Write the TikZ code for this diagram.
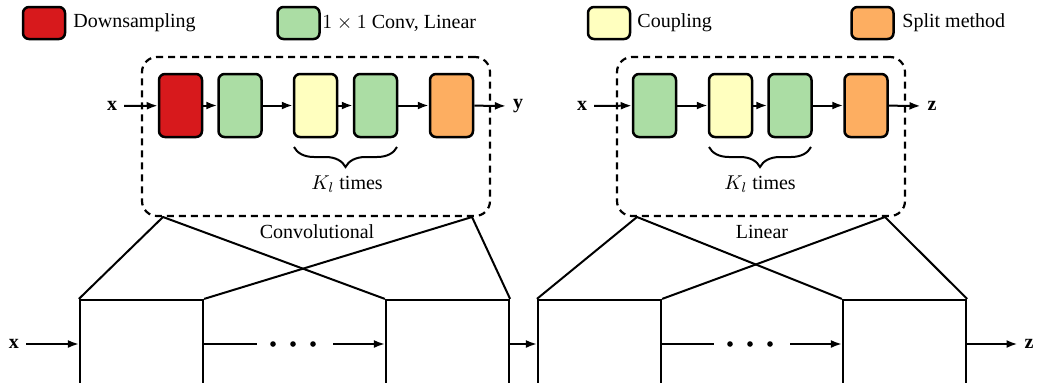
\documentclass[tikz,border=0pt]{standalone}
\usepackage{fontspec}
\setmainfont{Liberation Serif}
\usetikzlibrary{arrows.meta,decorations.pathreplacing,calc}
\definecolor{cred}{HTML}{D7191C}
\definecolor{cgreen}{HTML}{ABDDA4}
\definecolor{cyellow}{HTML}{FFFFBF}
\definecolor{corange}{HTML}{FDAE61}
\tikzset{
  blk/.style={draw, line width=1.25pt, rounded corners=3pt, minimum width=21.5pt, minimum height=31.5pt, inner sep=0pt},
  leg/.style={draw, line width=1.25pt, rounded corners=3pt, minimum width=21pt, minimum height=16pt, inner sep=0pt},
  legtxt/.style={anchor=west, inner sep=0pt},
  dashbox/.style={draw, line width=1.1pt, dash pattern=on 3.5pt off 2.5pt, rounded corners=7.5pt, inner sep=0pt},
  bigbox/.style={draw, line width=1.1pt, minimum width=61.5pt, minimum height=44pt, inner sep=0pt},
  arr/.style={line width=1pt, -{Latex[length=5.5pt,width=4pt]}},
  ln/.style={line width=1pt},
  brc/.style={line width=1pt, decorate, decoration={brace, mirror, amplitude=10pt}},
  dotsbox/.style={minimum width=38pt, minimum height=4pt, inner sep=0pt},
}
\begin{document}
\begin{tikzpicture}[x=0.5pt, y=-0.5pt]
\useasboundingbox (0,0) rectangle (1037,382);
\clip (0,0) rectangle (1037,382);
% legend
\node[leg, fill=cred] (lr) at (44,23) {};
\node[legtxt] (lrt) at (73,23) {Downsampling};
\node[leg, fill=cgreen] (lg) at (298.5,23) {};
\node[legtxt] (lgt) at (322,23) {$1\times 1$ Conv, Linear};
\node[leg, fill=cyellow] (ly) at (609,23) {};
\node[legtxt] (lyt) at (637,23) {Coupling};
\node[leg, fill=corange] (lo) at (872.5,23) {};
\node[legtxt] (lot) at (902,23) {Split method};

% left dashed box
\node[dashbox, minimum width=174pt, minimum height=79.5pt] (cbox) at (316,136.5) {};
\node[blk, fill=cred] (c1) at (180.5,105.5) {};
\node[blk, fill=cgreen] (c2) at (240,105.5) {};
\node[blk, fill=cyellow] (c3) at (315.5,105.5) {};
\node[blk, fill=cgreen] (c4) at (375.5,105.5) {};
\node[blk, fill=corange] (c5) at (451.5,105.5) {};
\node (cx) at (112,106) {$\mathbf{x}$};
\node (cy) at (518,106) {$\mathbf{y}$};
\draw[arr] (cx) -- (c1);
\draw[arr] (c1) -- (c2);
\draw[arr] (c2) -- (c3);
\draw[arr] (c3) -- (c4);
\draw[arr] (c4) -- (c5);
\draw[arr] (c5) -- (cy);
\draw[brc] (294,147) -- (397,147);
\node (ck) at (347,184) {$K_l$ times};
\node (cl) at (317,232) {Convolutional};

% right dashed box
\node[dashbox, minimum width=144pt, minimum height=79.5pt] (lbox) at (761,136.5) {};
\node[blk, fill=cgreen] (l1) at (654.5,105.5) {};
\node[blk, fill=cyellow] (l2) at (730.5,105.5) {};
\node[blk, fill=cgreen] (l3) at (790,105.5) {};
\node[blk, fill=corange] (l4) at (866,105.5) {};
\node (lx) at (582,106) {$\mathbf{x}$};
\node (lz) at (932,106) {$\mathbf{z}$};
\draw[arr] (lx) -- (l1);
\draw[arr] (l1) -- (l2);
\draw[arr] (l2) -- (l3);
\draw[arr] (l3) -- (l4);
\draw[arr] (l4) -- (lz);
\draw[brc] (709,147) -- (811,147);
\node (lk) at (760,184) {$K_l$ times};
\node (ll) at (762,232) {Linear};

% bottom row
\node[bigbox] (b1) at (141.5,344) {};
\node[bigbox] (b2) at (447.5,344) {};
\node[bigbox] (b3) at (599.5,344) {};
\node[bigbox] (b4) at (904.5,344) {};
\node[dotsbox] (d1) at (295,344) {};
\node[dotsbox] (d2) at (752,344) {};
\foreach \d in {d1,d2} {
  \fill ($(\d.center)+(-22,0)$) circle (2.8);
  \fill ($(\d.center)+(-2,0)$) circle (2.8);
  \fill ($(\d.center)+(18,0)$) circle (2.8);
}
\node (bx) at (14,344) {$\mathbf{x}$};
\node (bz) at (1029,344) {$\mathbf{z}$};
\draw[arr] (bx) -- (b1);
\draw[ln] (b1) -- (d1);
\draw[arr] (d1) -- (b2);
\draw[arr] (b2) -- (b3);
\draw[ln] (b3) -- (d2);
\draw[arr] (d2) -- (b4);
\draw[arr] (b4) -- (bz);

% zoom lines
\coordinate (cj1) at (163,217);
\coordinate (cj2) at (472,217);
\coordinate (lj1) at (637,217);
\coordinate (lj2) at (885,217);
\draw[ln] (b1.north west) -- (cj1) -- (b2.north west);
\draw[ln] (b1.north east) -- (cj2) -- (b2.north east);
\draw[ln] (b3.north west) -- (lj1) -- (b4.north west);
\draw[ln] (b3.north east) -- (lj2) -- (b4.north east);
\end{tikzpicture}
\end{document}
